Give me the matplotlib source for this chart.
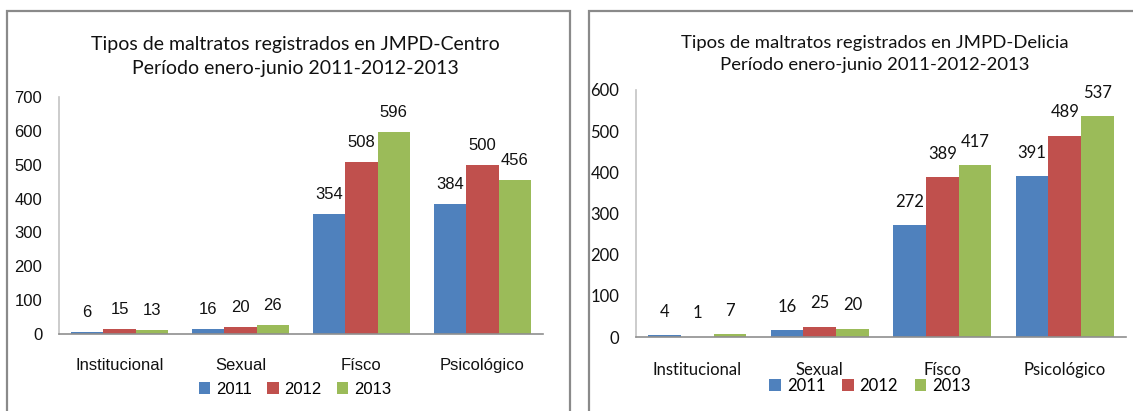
import numpy as np
import matplotlib
matplotlib.use("Agg")
from matplotlib import pyplot as plt
from matplotlib.patches import Rectangle

# Datos
categorias = ["Institucional", "Sexual", "Físco", "Psicológico"]
anios = ["2011", "2012", "2013"]
centro_2011 = [6, 16, 354, 384]
centro_2012 = [15, 20, 508, 500]
centro_2013 = [13, 26, 596, 456]
delicia_2011 = [4, 16, 272, 391]
delicia_2012 = [1, 25, 389, 489]
delicia_2013 = [7, 20, 417, 537]

colores = ["#4F81BD", "#C0504D", "#9BBB59"]

W, H = 1133, 411
fig = plt.figure(figsize=(W / 100, H / 100), dpi=100)


def caja(x0, y0, x1, y1):
    # rect en pixeles (desde arriba-izquierda) -> fracciones de figura
    return [x0 / W, 1 - y1 / H, (x1 - x0) / W, (y1 - y0) / H]


def marco(x0, y0, x1, y1):
    r = Rectangle((x0 / W, 1 - y1 / H), (x1 - x0) / W, (y1 - y0) / H,
                  transform=fig.transFigure, fill=False,
                  edgecolor="#8a8a8a", lw=1.6, clip_on=False)
    fig.patches.append(r)


def panel(ax, series, titulo, ymax, fuente_tick, tam, pad_lbl, pad_cat,
          tam_tit, tit_y, leg_pos, leg_gap):
    x = np.arange(len(categorias))
    ancho = 0.8 / 3
    barras = []
    for i, (vals, col, anio) in enumerate(zip(series, colores, anios)):
        b = ax.bar(x + (i - 1) * ancho, vals, ancho, color=col, label=anio)
        ax.bar_label(b, padding=pad_lbl, fontsize=tam, family=fuente_tick, color="#111111")
        barras.append(b)
    ax.set_xlim(-0.5, 3.5)
    ax.set_ylim(0, ymax)
    ax.set_yticks(np.arange(0, ymax + 1, 100))
    ax.set_xticks(x)
    ax.set_xticklabels(categorias, fontsize=tam, family=fuente_tick)
    for t in ax.get_yticklabels():
        t.set_fontsize(tam)
        t.set_family(fuente_tick)
    ax.tick_params(axis="both", length=0, colors="#111111")
    ax.tick_params(axis="x", pad=pad_cat)
    ax.tick_params(axis="y", pad=12)
    for s in ["top", "right"]:
        ax.spines[s].set_visible(False)
    ax.spines["left"].set_color("#c4c4c4")
    ax.spines["bottom"].set_color("#8f8f8f")
    ax.spines["left"].set_linewidth(1.2)
    ax.spines["bottom"].set_linewidth(1.2)
    # titulo en coordenadas de figura (pixeles desde arriba)
    fig.text(ax.get_position().x0 + ax.get_position().width / 2 - 6 / W,
             1 - tit_y / H, titulo, ha="center", va="center",
             fontsize=tam_tit, family="Lato", color="#111111", linespacing=1.5)
    fig.legend(handles=barras, labels=anios, loc="center",
               bbox_to_anchor=(leg_pos[0] / W, 1 - leg_pos[1] / H),
               ncol=3, frameon=False, handlelength=0.7, handleheight=0.7,
               handletextpad=0.35, columnspacing=leg_gap,
               prop={"family": fuente_tick, "size": tam})


marco(7, 11, 570, 430)
marco(589, 11, 1145, 430)

ax1 = fig.add_axes(caja(59, 97, 543, 334))
panel(ax1, [centro_2011, centro_2012, centro_2013],
      "Tipos de maltratos registrados en JMPD-Centro\nPeríodo enero-junio 2011-2012-2013",
      700, "Liberation Sans", 12, 8.5, 17, 14, 56, (295, 389), 0.9)

ax2 = fig.add_axes(caja(636, 90, 1126, 337))
panel(ax2, [delicia_2011, delicia_2012, delicia_2013],
      "Tipos de maltratos registrados en JMPD-Delicia\nPeríodo enero-junio 2011-2012-2013",
      600, "Lato", 12, 11, 18, 13.3, 54, (870, 386), 1.0)

fig.savefig("out.png", dpi=100)
